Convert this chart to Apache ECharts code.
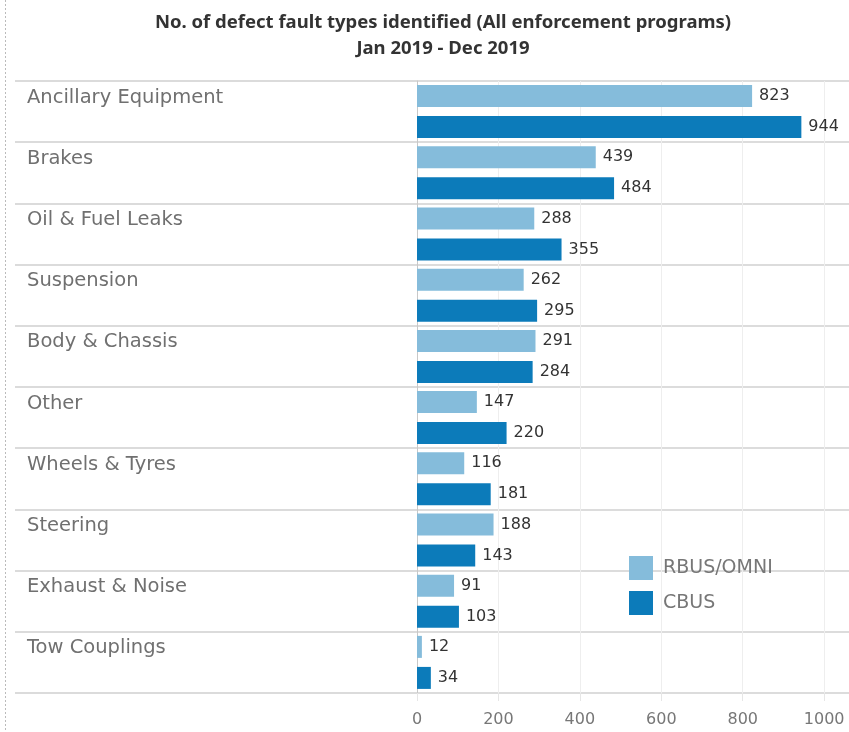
<!DOCTYPE html>
<html><head><meta charset="utf-8">
<script src="https://cdn.jsdelivr.net/npm/echarts@6/dist/echarts.min.js"></script>
<style>html,body{margin:0;padding:0;background:#fff}#c{width:849px;height:732px}</style>
</head><body><div id="c"></div>
<script>
const categories = ["Ancillary Equipment","Brakes","Oil & Fuel Leaks","Suspension","Body & Chassis","Other","Wheels & Tyres","Steering","Exhaust & Noise","Tow Couplings"];
const rbusOmni = [823,439,288,262,291,147,116,188,91,12];
const cbus = [944,484,355,295,284,220,181,143,103,34];
const seriesNames = ["RBUS/OMNI","CBUS"];
const titleLines = ["No. of defect fault types identified (All enforcement programs)","Jan 2019 - Dec 2019"];

const FONT = "DejaVu Sans";
const chart = echarts.init(document.getElementById('c'), null, {renderer:'canvas'});
chart.setOption({
  animation:false,
  textStyle:{fontFamily:FONT},
  title:{text:titleLines.join('\n'), left:443, top:10, textAlign:'center', padding:0,
    textStyle:{fontFamily:"Noto Sans", fontWeight:'bold', fontSize:18.5, color:'#333', lineHeight:26}},
  legend:{orient:'vertical', left:629, top:556, padding:0, itemWidth:24, itemHeight:24, itemGap:11,
    icon:'rect', textStyle:{fontSize:19, color:'#777', fontFamily:FONT, padding:[0,0,0,5]}, data:seriesNames},
  grid:{left:417, right:0, top:81, bottom:39, containLabel:false},
  xAxis:{type:'value', min:0, max:1061, interval:200,
    axisLine:{show:false},
    axisTick:{show:true, length:8, lineStyle:{color:'#e6e6e6'}},
    splitLine:{show:true, lineStyle:{color:'#eeeeee'}},
    axisLabel:{showMaxLabel:false, fontSize:16, color:'#777', margin:19, fontFamily:FONT,
      formatter:function(v){return String(v);}}},
  yAxis:{type:'category', inverse:true, data:categories,
    axisLine:{show:true, lineStyle:{color:'#c8c8c8'}},
    axisTick:{show:true, length:402, lineStyle:{color:'#d0d0d0', width:1.5}},
    splitLine:{show:true, lineStyle:{color:'#d0d0d0', width:1.5}},
    axisLabel:{interval:0, hideOverlap:false, align:'left', margin:390, fontSize:19.5, color:'#707070', lineHeight:28, fontFamily:FONT,
      formatter:function(v){return v + '\n ';}}},
  series:[
    {name:seriesNames[0], type:'bar', data:rbusOmni, barWidth:22, barGap:'41%',
      itemStyle:{color:'#85bcdb'},
      label:{show:true, position:'right', distance:7, fontSize:16, color:'#333', fontFamily:FONT}},
    {name:seriesNames[1], type:'bar', data:cbus, barWidth:22, barGap:'41%',
      itemStyle:{color:'#0c7bba'},
      label:{show:true, position:'right', distance:7, fontSize:16, color:'#333', fontFamily:FONT}}
  ],
  graphic:[{type:'line', shape:{x1:5.5,y1:0,x2:5.5,y2:732}, style:{stroke:'#bbb', lineWidth:1, lineDash:[2,2]}}]
});
</script></body></html>
